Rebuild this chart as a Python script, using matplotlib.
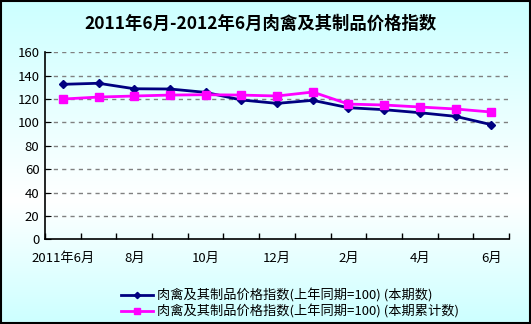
import numpy as np
import matplotlib
matplotlib.use('Agg')
import matplotlib.pyplot as plt
from matplotlib.colors import LinearSegmentedColormap

plt.rcParams['font.family'] = ['Noto Sans CJK SC', 'DejaVu Sans']

# data
months = ['2011年6月', '7月', '8月', '9月', '10月', '11月', '12月',
          '1月', '2月', '3月', '4月', '5月', '6月']
current = [132.6, 133.5, 128.8, 128.6, 125.7, 119.2, 116.3,
           118.9, 112.6, 110.9, 108.3, 105.2, 98.1]
cumulative = [120.0, 121.7, 122.6, 123.4, 123.7, 123.4, 122.6,
              126.0, 115.7, 114.9, 113.2, 111.5, 108.9]
label_cur = '肉禽及其制品价格指数(上年同期=100) (本期数)'
label_cum = '肉禽及其制品价格指数(上年同期=100) (本期累计数)'

fig = plt.figure(figsize=(5.31, 3.24), dpi=100)

# background gradient: cyan -> white -> cyan
bg = fig.add_axes([0, 0, 1, 1], zorder=-1)
cmap = LinearSegmentedColormap.from_list(
    'bg', [(0, '#ccffff'), (0.62, '#ffffff'), (1, '#ccffff')])
bg.imshow(np.linspace(0, 1, 256).reshape(-1, 1), aspect='auto', cmap=cmap,
          extent=[0, 1, 0, 1])
bg.set_axis_off()
fig.patches.append(plt.Rectangle((0.001, 0.002), 0.997, 0.995, transform=fig.transFigure,
                                 fill=False, edgecolor='black', linewidth=1.5))

ax = fig.add_axes([0.0847, 0.2614, 0.874, 0.5772])
ax.set_facecolor('none')
x = np.arange(len(months))
ax.plot(x, current, color='#000080', linewidth=2, marker='D', markersize=4,
        label=label_cur)
ax.plot(x, cumulative, color='#ff00ff', linewidth=2, marker='s', markersize=6,
        label=label_cum)

ax.set_xlim(-0.5, len(months) - 0.5)
ax.set_ylim(0, 160)
ax.set_yticks(range(0, 161, 20))
for y in range(20, 161, 20):
    ax.axhline(y, color='#808080', linestyle=(0, (3, 3)), linewidth=1, zorder=0)

ax.set_xticks(np.arange(-0.5, len(months), 1))
ax.set_xticklabels([])
ax.set_xticks(x[::2], minor=True)
ax.set_xticklabels([months[i] for i in x[::2]], minor=True)
ax.tick_params(axis='x', which='major', direction='in', length=4, width=1)
ax.tick_params(axis='x', which='minor', length=0, labelsize=9.5, pad=9)
ax.tick_params(axis='y', direction='in', length=4, labelsize=9.5, pad=4)
for s in ['top', 'right']:
    ax.spines[s].set_visible(False)
for s in ['left', 'bottom']:
    ax.spines[s].set_linewidth(1.2)

fig.text(0.49, 0.925, '2011年6月-2012年6月肉禽及其制品价格指数', ha='center', va='center',
         fontsize=12.5, fontweight='bold')

fig.legend(loc='upper left', bbox_to_anchor=(0.218, 0.125), frameon=False,
           fontsize=9.5, handlelength=2.4, handletextpad=0.3, labelspacing=0.15,
           borderaxespad=0, markerscale=0.8)

fig.savefig('out.png', dpi=100)
